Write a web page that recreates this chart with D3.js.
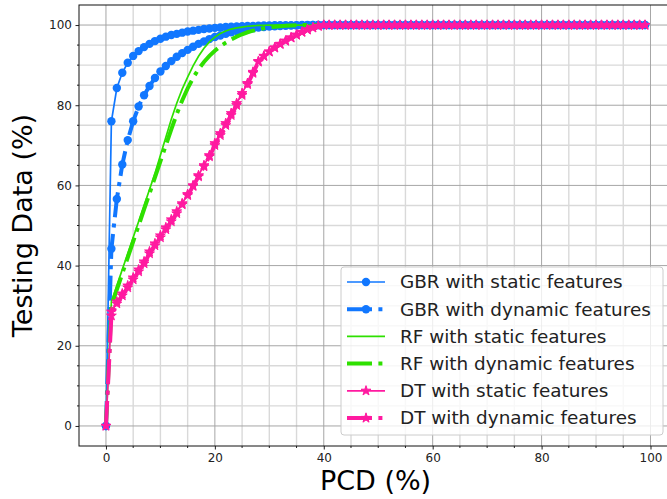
<!DOCTYPE html>
<html>
<head>
<meta charset="utf-8">
<script src="https://d3js.org/d3.v7.min.js"></script>
<style>
  body { margin: 0; background: #fff; }
  svg { display: block; font-family: "DejaVu Sans", sans-serif; }
</style>
</head>
<body>
<div id="chart"></div>
<script>
// PCD (%) on x, one point per integer step
const pcd = d3.range(0, 100);

const gbrStatic = [0, 76, 84.3, 88.1, 90.6, 92.3, 93.5, 94.5, 95.3, 96, 96.6, 97.1, 97.5, 97.8, 98.1, 98.4, 98.6, 98.8, 99, 99.15,
  99.3, 99.4, 99.5, 99.6, 99.65, 99.7, 99.75, 99.8, 99.85, 99.9, 99.92, 99.94, 99.96, 99.97, 99.98, 99.99, 100, 100, 100, 100,
  100, 100, 100, 100, 100, 100, 100, 100, 100, 100, 100, 100, 100, 100, 100, 100, 100, 100, 100, 100,
  100, 100, 100, 100, 100, 100, 100, 100, 100, 100, 100, 100, 100, 100, 100, 100, 100, 100, 100, 100,
  100, 100, 100, 100, 100, 100, 100, 100, 100, 100, 100, 100, 100, 100, 100, 100, 100, 100, 100, 100];

const gbrDynamic = [0, 44.2, 56.6, 65.2, 71.3, 76, 79.7, 82.5, 84.8, 86.8, 88.4, 89.8, 91, 92.1, 93, 93.8, 94.6, 95.3, 95.9, 96.5,
  97, 97.4, 97.8, 98.2, 98.5, 98.8, 99, 99.2, 99.4, 99.5, 99.6, 99.7, 99.75, 99.8, 99.85, 99.9, 99.93, 99.96, 100, 100,
  100, 100, 100, 100, 100, 100, 100, 100, 100, 100, 100, 100, 100, 100, 100, 100, 100, 100, 100, 100,
  100, 100, 100, 100, 100, 100, 100, 100, 100, 100, 100, 100, 100, 100, 100, 100, 100, 100, 100, 100,
  100, 100, 100, 100, 100, 100, 100, 100, 100, 100, 100, 100, 100, 100, 100, 100, 100, 100, 100, 100];

const rfStatic = [0, 31, 35, 39, 43, 47, 51, 55, 59, 63, 67.5, 72, 76.5, 80.5, 84, 87, 89.8, 92.2, 94.2, 95.8,
  97, 97.9, 98.5, 99, 99.3, 99.5, 99.7, 99.8, 99.9, 99.95, 100, 100, 100, 100, 100, 100, 100, 100, 100, 100,
  100, 100, 100, 100, 100, 100, 100, 100, 100, 100, 100, 100, 100, 100, 100, 100, 100, 100, 100, 100,
  100, 100, 100, 100, 100, 100, 100, 100, 100, 100, 100, 100, 100, 100, 100, 100, 100, 100, 100, 100,
  100, 100, 100, 100, 100, 100, 100, 100, 100, 100, 100, 100, 100, 100, 100, 100, 100, 100, 100, 100];

const rfDynamic = [0, 30, 34, 38, 42, 46, 50, 54, 58, 62, 66, 70, 74, 77.8, 81.2, 84.2, 86.8, 89, 90.8, 92.3,
  93.6, 94.7, 95.6, 96.4, 97.1, 97.7, 98.2, 98.6, 98.9, 99.2, 99.4, 99.6, 99.7, 99.8, 99.9, 99.95, 100, 100, 100, 100,
  100, 100, 100, 100, 100, 100, 100, 100, 100, 100, 100, 100, 100, 100, 100, 100, 100, 100, 100, 100,
  100, 100, 100, 100, 100, 100, 100, 100, 100, 100, 100, 100, 100, 100, 100, 100, 100, 100, 100, 100,
  100, 100, 100, 100, 100, 100, 100, 100, 100, 100, 100, 100, 100, 100, 100, 100, 100, 100, 100, 100];

const dtStatic = [0, 28.5, 31, 33, 35, 37, 39, 41, 43.5, 45.5, 47.5, 49.5, 51.5, 53.5, 55.5, 57.8, 60, 62.5, 65, 67.5,
  70.5, 73, 75.5, 78, 80.5, 83, 85.5, 88.3, 91, 92.3, 93.4, 94.4, 95.3, 96.1, 96.9, 97.6, 98.3, 98.9, 99.4, 99.8,
  100, 100, 100, 100, 100, 100, 100, 100, 100, 100, 100, 100, 100, 100, 100, 100, 100, 100, 100, 100,
  100, 100, 100, 100, 100, 100, 100, 100, 100, 100, 100, 100, 100, 100, 100, 100, 100, 100, 100, 100,
  100, 100, 100, 100, 100, 100, 100, 100, 100, 100, 100, 100, 100, 100, 100, 100, 100, 100, 100, 100];

const dtDynamic = [0, 27.5, 30.5, 32.5, 34.5, 36.5, 38.5, 40.5, 43, 45, 47, 49, 51, 53, 55.2, 57.5, 59.8, 62.2, 64.7, 67.2,
  70, 72.5, 75, 77.5, 80, 82.5, 85.2, 88, 90.8, 92.2, 93.3, 94.3, 95.2, 96, 96.8, 97.5, 98.2, 98.8, 99.3, 99.7,
  100, 100, 100, 100, 100, 100, 100, 100, 100, 100, 100, 100, 100, 100, 100, 100, 100, 100, 100, 100,
  100, 100, 100, 100, 100, 100, 100, 100, 100, 100, 100, 100, 100, 100, 100, 100, 100, 100, 100, 100,
  100, 100, 100, 100, 100, 100, 100, 100, 100, 100, 100, 100, 100, 100, 100, 100, 100, 100, 100, 100];

const xTicks = [0, 20, 40, 60, 80, 100];
const yTicks = [0, 20, 40, 60, 80, 100];

const blue = '#1177ff', green = '#2ee000', pink = '#ff1aa0';
const dashDot = '25,6.4,4,6.4';

const series = [
  { name: 'GBR with static features', values: gbrStatic, color: blue, width: 1.7, dash: null, marker: 'circle' },
  { name: 'GBR with dynamic features', values: gbrDynamic, color: blue, width: 4, dash: dashDot, marker: 'circle' },
  { name: 'RF with static features', values: rfStatic, color: green, width: 1.7, dash: null, marker: null },
  { name: 'RF with dynamic features', values: rfDynamic, color: green, width: 4, dash: dashDot, marker: null },
  { name: 'DT with static features', values: dtStatic, color: pink, width: 1.7, dash: null, marker: 'star' },
  { name: 'DT with dynamic features', values: dtDynamic, color: pink, width: 4, dash: dashDot, marker: 'star' }
];

const width = 667, height = 499;
const plot = { left: 79, right: 672, top: 5, bottom: 446 };

const svg = d3.select('#chart').append('svg')
  .attr('width', width)
  .attr('height', height);

const x = d3.scaleLinear().domain([-4.95, 103.95]).range([plot.left, plot.right]);
const y = d3.scaleLinear().domain([-5, 105]).range([plot.bottom, plot.top]);

// grid: minor every 5, major every 20
const minor = d3.range(0, 101, 5).filter(v => v % 20 !== 0);
const grid = svg.append('g');
grid.selectAll('.vminor').data(minor).enter().append('line')
  .attr('x1', d => x(d)).attr('x2', d => x(d))
  .attr('y1', plot.top).attr('y2', plot.bottom)
  .attr('stroke', '#d9d9d9').attr('stroke-width', 1.4);
grid.selectAll('.hminor').data(minor).enter().append('line')
  .attr('y1', d => y(d)).attr('y2', d => y(d))
  .attr('x1', plot.left).attr('x2', plot.right)
  .attr('stroke', '#d9d9d9').attr('stroke-width', 1.4);
grid.selectAll('.vmajor').data(xTicks).enter().append('line')
  .attr('x1', d => x(d)).attr('x2', d => x(d))
  .attr('y1', plot.top).attr('y2', plot.bottom)
  .attr('stroke', '#a6a6a6').attr('stroke-width', 1);
grid.selectAll('.hmajor').data(yTicks).enter().append('line')
  .attr('y1', d => y(d)).attr('y2', d => y(d))
  .attr('x1', plot.left).attr('x2', plot.right)
  .attr('stroke', '#a6a6a6').attr('stroke-width', 1);

// curves
const line = d3.line().x((d, i) => x(pcd[i])).y(d => y(d));
const star = d3.symbol().type(d3.symbolStar).size(30);

series.forEach(s => {
  const g = svg.append('g');
  g.append('path')
    .datum(s.values)
    .attr('d', line)
    .attr('fill', 'none')
    .attr('stroke', s.color)
    .attr('stroke-width', s.width)
    .attr('stroke-dasharray', s.dash);
  if (s.marker === 'circle') {
    g.selectAll('circle').data(s.values).enter().append('circle')
      .attr('cx', (d, i) => x(pcd[i]))
      .attr('cy', d => y(d))
      .attr('r', 4.2)
      .attr('fill', s.color);
  } else if (s.marker === 'star') {
    g.selectAll('path.m').data(s.values).enter().append('path')
      .attr('class', 'm')
      .attr('d', star)
      .attr('transform', (d, i) => `translate(${x(pcd[i])},${y(d)})`)
      .attr('fill', s.color)
      .attr('stroke', s.color)
      .attr('stroke-width', 1);
  }
});

// axes
const xAxis = d3.axisBottom(x).tickValues(xTicks).tickSize(3.5).tickPadding(3.5);
const yAxis = d3.axisLeft(y).tickValues(yTicks).tickSize(3.5).tickPadding(3.5);

const gx = svg.append('g').attr('transform', `translate(0,${plot.bottom})`).call(xAxis);
const gy = svg.append('g').attr('transform', `translate(${plot.left},0)`).call(yAxis);
[gx, gy].forEach(g => {
  g.select('.domain').remove();
  g.selectAll('text').attr('font-size', 12).attr('fill', '#222').attr('font-family', 'DejaVu Sans');
  g.selectAll('line').attr('stroke', '#222');
});
// minor ticks
svg.append('g').selectAll('line').data(minor).enter().append('line')
  .attr('x1', d => x(d)).attr('x2', d => x(d))
  .attr('y1', plot.bottom).attr('y2', plot.bottom + 2)
  .attr('stroke', '#222');
svg.append('g').selectAll('line').data(minor).enter().append('line')
  .attr('y1', d => y(d)).attr('y2', d => y(d))
  .attr('x1', plot.left).attr('x2', plot.left - 2)
  .attr('stroke', '#222');

// spines (right one falls outside the picture)
svg.append('rect')
  .attr('x', plot.left).attr('y', plot.top)
  .attr('width', plot.right - plot.left).attr('height', plot.bottom - plot.top)
  .attr('fill', 'none').attr('stroke', '#111').attr('stroke-width', 1);

// axis labels
svg.append('text')
  .attr('x', (plot.left + plot.right) / 2)
  .attr('y', 490)
  .attr('text-anchor', 'middle')
  .attr('font-size', 27)
  .text('PCD (%)');
svg.append('text')
  .attr('transform', `translate(32,${(plot.top + plot.bottom) / 2}) rotate(-90)`)
  .attr('text-anchor', 'middle')
  .attr('font-size', 27)
  .text('Testing Data (%)');

// legend
const leg = svg.append('g');
leg.append('rect')
  .attr('x', 341).attr('y', 267)
  .attr('width', 322).attr('height', 168)
  .attr('rx', 3)
  .attr('fill', 'white').attr('fill-opacity', 0.8)
  .attr('stroke', '#cccccc').attr('stroke-width', 1);

series.forEach((s, i) => {
  const ly = 282 + i * 27.2;
  const row = leg.append('g');
  row.append('line')
    .attr('x1', 347).attr('x2', 385)
    .attr('y1', ly).attr('y2', ly)
    .attr('stroke', s.color)
    .attr('stroke-width', s.width)
    .attr('stroke-dasharray', s.dash);
  if (s.marker === 'circle') {
    row.append('circle').attr('cx', 366).attr('cy', ly).attr('r', 4.2).attr('fill', s.color);
  } else if (s.marker === 'star') {
    row.append('path').attr('d', star).attr('transform', `translate(366,${ly})`)
      .attr('fill', s.color).attr('stroke', s.color).attr('stroke-width', 1);
  }
  row.append('text')
    .attr('x', 400).attr('y', ly)
    .attr('dy', '0.35em')
    .attr('font-size', 18.4)
    .attr('fill', '#222')
    .text(s.name);
});
</script>
</body>
</html>
